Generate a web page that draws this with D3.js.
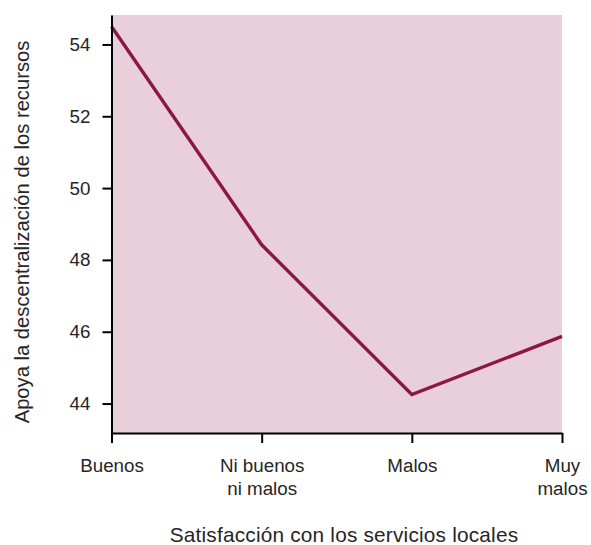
<!DOCTYPE html>
<html><head><meta charset="utf-8">
<script src="https://cdn.jsdelivr.net/npm/d3@7"></script>
<style>body{margin:0;background:#fff;} text{font-family:"Liberation Sans",Arial,sans-serif;}</style>
</head><body>
<svg id="chart" width="591" height="545"></svg>
<script>
const categories = [["Buenos"], ["Ni buenos", "ni malos"], ["Malos"], ["Muy", "malos"]];
const values = [54.5, 48.42, 44.25, 45.87];
const yTicks = [44, 46, 48, 50, 52, 54];
const xTitle = "Satisfacción con los servicios locales";
const yTitle = "Apoya la descentralización de los recursos";

const svg = d3.select("#chart");
const m = {left: 111.5, right: 29, top: 15, bottom: 112};
const W = 591, H = 545;
const x = d3.scalePoint().domain(d3.range(categories.length)).range([m.left, W - m.right]).padding(0);
const y = d3.scaleLinear().domain([43.18, 54.82]).range([H - m.bottom, m.top]);

svg.append("rect").attr("x", m.left).attr("y", m.top)
  .attr("width", W - m.right - m.left).attr("height", H - m.bottom - m.top)
  .attr("fill", "#e8cfd9");

const line = d3.line().x((d, i) => x(i)).y(d => y(d));
svg.append("path").datum(values).attr("d", line)
  .attr("fill", "none").attr("stroke", "#8c1840").attr("stroke-width", 3.4)
  .attr("stroke-linejoin", "miter");

// y axis
const ya = svg.append("g").attr("transform", `translate(${m.left},0)`)
  .call(d3.axisLeft(y).tickValues(yTicks).tickSize(9).tickPadding(12).tickSizeOuter(0));
ya.select(".domain").attr("stroke", "#000").attr("stroke-width", 2);
ya.selectAll(".tick line").attr("stroke", "#000").attr("stroke-width", 2);
ya.selectAll(".tick text").attr("font-size", 18.8).attr("fill", "#262626");

// x axis
const xa = svg.append("g").attr("transform", `translate(0,${H - m.bottom})`)
  .call(d3.axisBottom(x).tickSize(10).tickSizeOuter(0).tickFormat(""));
xa.select(".domain").attr("stroke", "#000").attr("stroke-width", 2);
xa.selectAll(".tick line").attr("stroke", "#000").attr("stroke-width", 2);
xa.selectAll(".tick").each(function(d) {
  const t = d3.select(this).append("text").attr("fill", "#262626").attr("font-size", 18.8)
    .attr("text-anchor", "middle").attr("y", 38.5);
  categories[d].forEach((s, k) => t.append("tspan").attr("x", 0).attr("dy", k === 0 ? 0 : 23.4).text(s));
});

svg.append("text").attr("x", 344).attr("y", 542).attr("text-anchor", "middle")
  .attr("font-size", 20.8).attr("letter-spacing", 0.2).attr("fill", "#262626").text(xTitle);
svg.append("text").attr("transform", "translate(28.5,232) rotate(-90)").attr("text-anchor", "middle")
  .attr("font-size", 20.2).attr("fill", "#262626").text(yTitle);
</script>
</body></html>
